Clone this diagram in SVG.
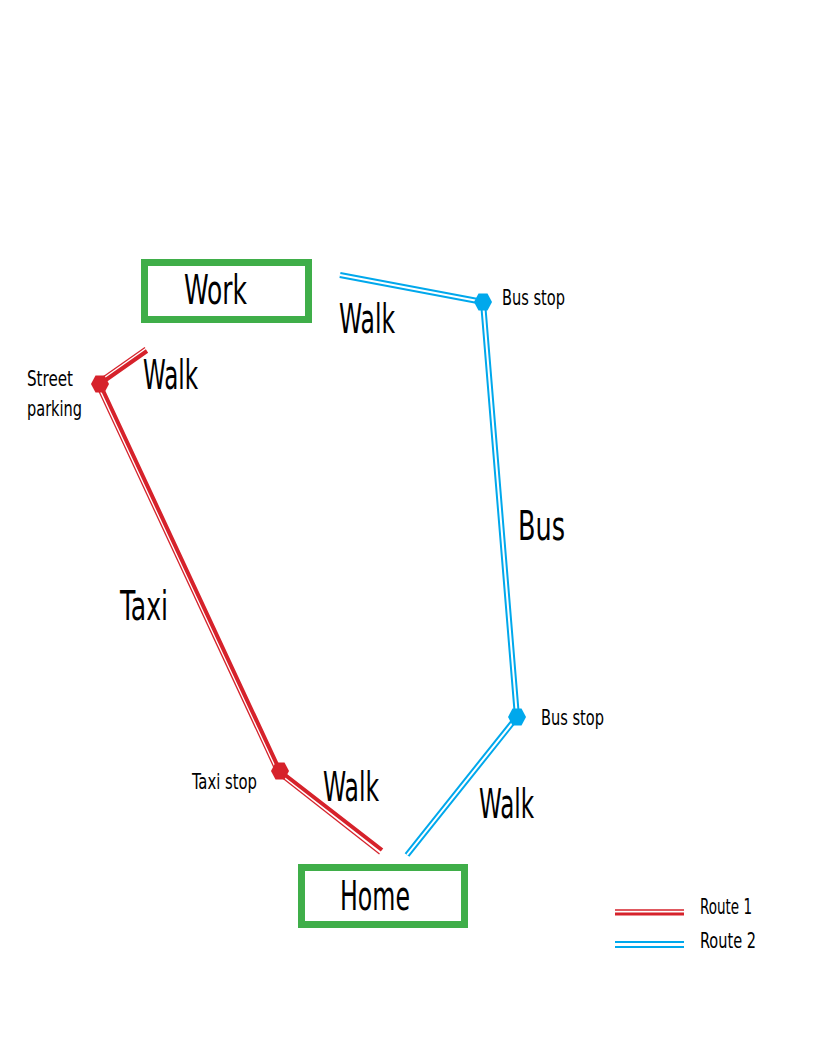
<svg xmlns="http://www.w3.org/2000/svg" width="816" height="1056" viewBox="0 0 816 1056">
<style>
text{font-family:"Liberation Sans Narrow","DejaVu Sans Condensed","DejaVu Sans",sans-serif;fill:#000}
.big{font-size:40px}
.small{font-size:22px}
.box{fill:none;stroke:#3fae49;stroke-width:7}
.rthick{stroke:#d6222b;stroke-width:4;fill:none;stroke-linejoin:round}
.rthin{stroke:#d6222b;stroke-width:1.3;fill:none}
.bout{stroke:#00a8ec;stroke-width:6;fill:none;stroke-linejoin:round}
.bin{stroke:#fff;stroke-width:2;fill:none;stroke-linejoin:round}
.rdot{fill:#d6222b}
.bdot{fill:#00a8ec}
</style>
<rect width="816" height="1056" fill="#fff"/>
<g id="connectors">
  <g id="route1">
    <polyline class="rthick" points="147,351 100,384 280,771 382,850"/>
    <line class="rthin" x1="145" y1="347.5" x2="98" y2="380.5"/>
    <line class="rthin" x1="96.4" y1="385.7" x2="276.4" y2="772.7"/>
    <line class="rthin" x1="277.5" y1="774.1" x2="379.5" y2="854"/>
  </g>
  <g id="route2">
    <polyline class="bout" points="340,275 483,302 517,717 407,855"/>
    <polyline class="bin" points="340,275 483,302 517,717 407,855"/>
  </g>
  <text class="big" x="339" y="333" textLength="56" lengthAdjust="spacingAndGlyphs">Walk</text>
  <text class="big" x="143" y="389" textLength="55" lengthAdjust="spacingAndGlyphs">Walk</text>
  <text class="big" x="518" y="540" textLength="47" lengthAdjust="spacingAndGlyphs">Bus</text>
  <text class="big" x="120" y="620" textLength="48" lengthAdjust="spacingAndGlyphs">Taxi</text>
  <text class="big" x="323" y="801" textLength="56" lengthAdjust="spacingAndGlyphs">Walk</text>
  <text class="big" x="479" y="818" textLength="55" lengthAdjust="spacingAndGlyphs">Walk</text>
</g>
<g id="work">
  <rect class="box" x="144.5" y="262.5" width="164" height="57"/>
  <text class="big" x="184" y="304" textLength="63" lengthAdjust="spacingAndGlyphs">Work</text>
</g>
<g id="home">
  <rect class="box" x="301.5" y="867.5" width="163" height="57"/>
  <text class="big" x="340" y="910" textLength="70" lengthAdjust="spacingAndGlyphs">Home</text>
</g>
<g id="street-parking">
  <polygon class="rdot" points="109,384 104.5,392.5 95.5,392.5 91,384 95.5,375.5 104.5,375.5"/>
  <text class="small" x="27" y="386" textLength="46" lengthAdjust="spacingAndGlyphs">Street</text>
  <text class="small" x="27" y="416" textLength="55" lengthAdjust="spacingAndGlyphs">parking</text>
</g>
<g id="taxi-stop">
  <polygon class="rdot" points="289,771 284.5,779.5 275.5,779.5 271,771 275.5,762.5 284.5,762.5"/>
  <text class="small" x="192" y="789" textLength="65" lengthAdjust="spacingAndGlyphs">Taxi stop</text>
</g>
<g id="bus-stop-1">
  <polygon class="bdot" points="492,302 487.5,310.5 478.5,310.5 474,302 478.5,293.5 487.5,293.5"/>
  <text class="small" x="502" y="305" textLength="63" lengthAdjust="spacingAndGlyphs">Bus stop</text>
</g>
<g id="bus-stop-2">
  <polygon class="bdot" points="526,717 521.5,725.5 512.5,725.5 508,717 512.5,708.5 521.5,708.5"/>
  <text class="small" x="541" y="725" textLength="63" lengthAdjust="spacingAndGlyphs">Bus stop</text>
</g>
<g id="legend">
  <line x1="615" y1="910" x2="684" y2="910" stroke="#d6222b" stroke-width="1.3"/>
  <line x1="615" y1="914" x2="684" y2="914" stroke="#d6222b" stroke-width="3"/>
  <line x1="615" y1="942" x2="684" y2="942" stroke="#00a8ec" stroke-width="2"/>
  <line x1="615" y1="947" x2="684" y2="947" stroke="#00a8ec" stroke-width="2"/>
  <text class="small" x="700" y="914" textLength="52" lengthAdjust="spacingAndGlyphs">Route 1</text>
  <text class="small" x="700" y="948" textLength="56" lengthAdjust="spacingAndGlyphs">Route 2</text>
</g>
</svg>
